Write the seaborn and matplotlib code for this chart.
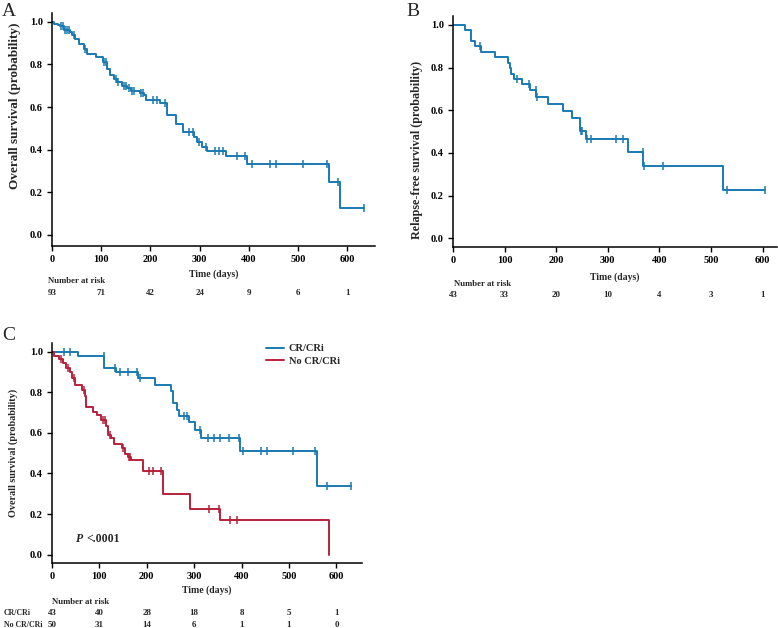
import numpy as np
import pandas as pd
import matplotlib
matplotlib.use("Agg")
import matplotlib.pyplot as plt
import matplotlib.transforms as mtransforms
from matplotlib.lines import Line2D
import seaborn as sns

# ---- data ----
# A: overall survival, all patients
os_times = [0, 5, 12, 17, 24, 37, 41, 47, 55, 66, 72, 90, 103, 112, 117, 125, 131, 142,
            152, 160, 179, 186, 191, 220, 233, 252, 266, 289, 294, 304, 315, 354, 397, 562, 585]
os_surv = [1.0, 0.99, 0.985, 0.978, 0.962, 0.95, 0.938, 0.92, 0.894, 0.873, 0.848, 0.833,
           0.8125, 0.776, 0.75, 0.731, 0.716, 0.70, 0.6875, 0.677, 0.667, 0.656, 0.633, 0.617,
           0.5625, 0.52, 0.484, 0.461, 0.437, 0.414, 0.395, 0.370, 0.333, 0.25, 0.125]
os_censor = [19, 22, 27, 31, 34, 44, 68, 106, 110, 130, 135, 146, 150, 157, 163, 167, 180, 185,
             206, 214, 230, 279, 287, 299, 313, 332, 340, 348, 375, 392, 406, 443, 455, 509,
             558, 581, 633]

# B: relapse-free survival
rfs_times = [0, 23, 34, 42, 55, 82, 107, 110, 113, 118, 133, 150, 161, 185, 214, 230, 247,
             258, 340, 369, 523]
rfs_surv = [1.0, 0.975, 0.925, 0.90, 0.875, 0.85, 0.822, 0.797, 0.772, 0.747, 0.722, 0.693,
            0.663, 0.63, 0.598, 0.566, 0.505, 0.466, 0.406, 0.34, 0.227]
rfs_censor = [53, 125, 147, 160, 162, 249, 251, 260, 268, 315, 329, 368, 370, 408, 531, 604]

# C: overall survival by response
cr_times = [0, 54, 110, 134, 182, 217, 251, 255, 264, 267, 288, 301, 314, 396, 559]
cr_surv = [1.0, 0.977, 0.922, 0.898, 0.872, 0.837, 0.808, 0.746, 0.715, 0.684, 0.656, 0.615,
           0.574, 0.512, 0.339]
cr_censor = [25, 37, 109, 132, 144, 160, 179, 185, 278, 285, 313, 330, 341, 355, 374, 394, 404,
             441, 454, 509, 554, 580, 630]

nocr_times = [0, 4, 14, 23, 30, 37, 42, 49, 63, 69, 72, 86, 95, 104, 114, 119, 125, 130, 148,
              153, 160, 166, 192, 235, 292, 355, 584]
nocr_surv = [1.0, 0.98, 0.962, 0.943, 0.918, 0.90, 0.869, 0.836, 0.81, 0.78, 0.73, 0.705, 0.689,
             0.664, 0.635, 0.59, 0.574, 0.546, 0.525, 0.495, 0.48, 0.468, 0.41, 0.298, 0.225,
             0.169, 0.0]
nocr_censor = [20, 33, 46, 67, 108, 112, 123, 150, 163, 165, 204, 213, 229, 332, 352, 375, 390]

risk_ticks = [0, 100, 200, 300, 400, 500, 600]
risk_all = [93, 71, 42, 24, 9, 6, 1]
risk_rfs = [43, 33, 20, 10, 4, 3, 1]
risk_cr = [43, 40, 28, 18, 8, 5, 1]
risk_nocr = [50, 31, 14, 6, 1, 1, 0]

BLUE = "#1a7ab2"
RED = "#b8203a"

W, H = 778, 628

sns.set_style("ticks")
plt.rcParams["font.family"] = ["Liberation Serif", "DejaVu Serif"]
plt.rcParams["font.weight"] = "bold"
plt.rcParams["axes.labelweight"] = "bold"

fig = plt.figure(figsize=(W / 100, H / 100), dpi=100)


def add_ax(l, t, r, b):
    return fig.add_axes([l / W, 1 - b / H, (r - l) / W, (b - t) / H])


def km_curve(ax, times, surv, censor, color):
    df = pd.DataFrame({"t": times, "s": surv})
    if max(censor) > times[-1]:
        df = pd.concat([df, pd.DataFrame({"t": [max(censor)], "s": [surv[-1]]})],
                       ignore_index=True)
    sns.lineplot(data=df, x="t", y="s", drawstyle="steps-post", color=color,
                 linewidth=1.4, estimator=None, ax=ax)
    idx = np.searchsorted(times, censor, side="right") - 1
    cs = np.asarray(surv)[idx]
    ax.plot(censor, cs, ls="none", marker="|", ms=5.5, mew=1.1, color=color)


def style_ax(ax, xmax, ylo, yhi):
    ax.set_xlim(0, xmax)
    ax.set_ylim(ylo, yhi)
    ax.set_xticks(risk_ticks)
    ax.set_yticks([0, 0.2, 0.4, 0.6, 0.8, 1.0])
    ax.set_yticklabels(["0.0", "0.2", "0.4", "0.6", "0.8", "1.0"])
    sns.despine(ax=ax)
    for s in ["left", "bottom"]:
        ax.spines[s].set_linewidth(1.1)
        ax.spines[s].set_color("black")
    ax.tick_params(direction="out", length=3.5, width=1.0, labelsize=7.5, pad=3,
                   colors="black")
    ax.set_xlabel("")
    ax.set_ylabel("")


def risk_row(ax, values, ypix, size=6.5):
    tr = mtransforms.blended_transform_factory(ax.transData, fig.transFigure)
    for x, v in zip(risk_ticks, values):
        ax.text(x, 1 - ypix / H, str(v), transform=tr, ha="center", va="center",
                fontsize=size, fontweight="bold", clip_on=False)


def fig_text(x, y, s, **kw):
    fig.text(x / W, 1 - y / H, s, **kw)


# ---- Panel A ----
axA = add_ax(52, 13, 375, 246)
km_curve(axA, os_times, os_surv, os_censor, BLUE)
style_ax(axA, 656, -0.052, 1.041)
axA.set_xlabel("Time (days)", fontsize=7, va="center")
axA.xaxis.set_label_coords(0.5, (246 - 274) / 233)
axA.set_ylabel("Overall survival (probability)", fontsize=9.5, va="center")
axA.yaxis.set_label_coords((15 - 52) / 323, (246 - 106) / 233)
fig_text(48, 281, "Number at risk", fontsize=6.3, fontweight="bold", va="center")
risk_row(axA, risk_all, 293)
fig_text(2, 16, "A", fontsize=14, fontweight="normal", va="baseline")

# ---- Panel B ----
axB = add_ax(453, 16, 777, 247)
km_curve(axB, rfs_times, rfs_surv, rfs_censor, BLUE)
style_ax(axB, 628, -0.041, 1.042)
axB.set_xlabel("Time (days)", fontsize=7, va="center")
axB.xaxis.set_label_coords(0.5, (247 - 277.5) / 231)
axB.set_ylabel("Relapse-free survival (probability)", fontsize=8.7, va="center")
axB.yaxis.set_label_coords((416.7 - 453) / 324, (247 - 150) / 231)
fig_text(454, 284, "Number at risk", fontsize=6.3, fontweight="bold", va="center")
risk_row(axB, risk_rfs, 295)
fig_text(406, 16, "B", fontsize=14, fontweight="normal", va="baseline")

# ---- Panel C ----
axC = add_ax(52, 343, 362, 563)
km_curve(axC, cr_times, cr_surv, cr_censor, BLUE)
km_curve(axC, nocr_times, nocr_surv, nocr_censor, RED)
style_ax(axC, 654, -0.041, 1.043)
axC.set_xlabel("Time (days)", fontsize=7, va="center")
axC.xaxis.set_label_coords(0.5, (563 - 590) / 220)
axC.set_ylabel("Overall survival (probability)", fontsize=7.3, va="center")
axC.yaxis.set_label_coords((13.5 - 52) / 310, (563 - 452.5) / 220)
fig_text(76, 539, "P", fontsize=8.5, fontweight="bold", fontstyle="italic", va="center")
fig_text(86, 539, "<.0001", fontsize=8.5, fontweight="bold", va="center")
handles = [Line2D([], [], color=BLUE, lw=1.4), Line2D([], [], color=RED, lw=1.4)]
fig.legend(handles, ["CR/CRi", "No CR/CRi"], loc="upper left",
           bbox_to_anchor=(266 / W, 1 - 344 / H), frameon=False, fontsize=7.5,
           handlelength=1.7, handletextpad=0.5, labelspacing=0.3, borderpad=0,
           borderaxespad=0)
fig_text(52, 602, "Number at risk", fontsize=6.3, fontweight="bold", va="center")
fig_text(4, 613, "CR/CRi", fontsize=5.7, fontweight="bold", va="center")
fig_text(4, 625, "No CR/CRi", fontsize=5.7, fontweight="bold", va="center")
risk_row(axC, risk_cr, 613)
risk_row(axC, risk_nocr, 625)
fig_text(2, 340, "C", fontsize=14, fontweight="normal", va="baseline")

fig.savefig("out.png", dpi=100)
